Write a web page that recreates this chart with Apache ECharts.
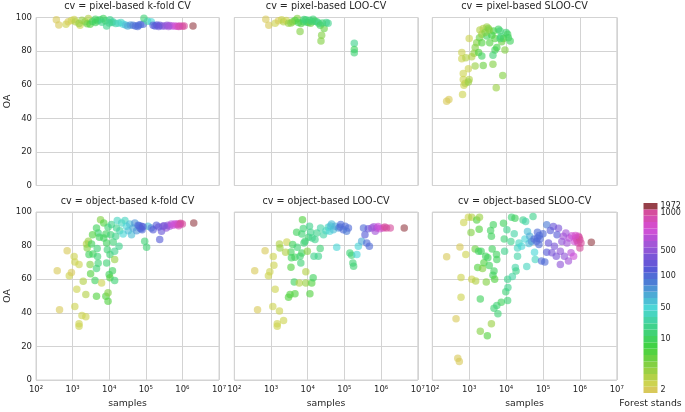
<!DOCTYPE html>
<html>
<head>
<meta charset="utf-8">
<script src="https://cdn.jsdelivr.net/npm/echarts@6/dist/echarts.min.js"></script>
<style>html,body{margin:0;padding:0;background:#fff;}#c{width:685px;height:412px;}</style>
</head>
<body>
<div id="c"></div>
<script>
// ---------- DATA ----------
const panelTitles = ['cv = pixel-based k-fold CV','cv = pixel-based LOO-CV','cv = pixel-based SLOO-CV',
  'cv = object-based k-fold CV','cv = object-based LOO-CV','cv = object-based SLOO-CV'];
const xTickLabels = {100:'10²',1000:'10³',10000:'10⁴',100000:'10⁵',1000000:'10⁶',10000000:'10⁷'};
const yTicks = [0,20,40,60,80,100];

// pixel-based k-fold
const pkfSamples = [360,420,660,760,930,1100,1200,1600,1500,2200,2700,2500,3000,3500,4200,4800,5600,6900,6300,8500,7900,10500,12000,12600,15000,17800,21000,24000,28000,32000,38000,45000,52000,63000,72000,85000,89000,112000,141000,158000,178000,200000,240000,282000,331000,380000,447000,525000,617000,708000,851000,1000000,1120000,1950000,1800,4200,10000,60000,224000,417000,794000];
const pkfOA      = [98.6,95.6,96.0,97.4,98.2,98.8,97.5,95.4,96.5,97.4,99.4,96.3,96.0,97.6,97.0,98.0,98.6,99.4,97.2,95.0,98.0,98.6,97.0,97.4,96.4,96.6,97.0,96.0,95.5,95.0,95.6,95.4,95.0,95.4,95.8,96.0,99.6,97.8,97.4,95.4,95.0,95.6,95.4,95.0,95.0,95.4,95.2,95.0,95.0,94.8,95.0,94.8,95.0,95.0,98.4,99.0,96.8,94.6,94.6,94.6,94.6];
const pkfStands  = [2,2,3,2,3,3,4,3,5,6,4,7,8,10,12,10,15,12,20,20,15,20,25,30,30,40,45,55,60,70,80,90,100,120,150,150,15,30,50,200,200,250,350,400,500,550,650,750,850,920,960,1000,1100,1972,5,10,20,100,300,600,950];

// pixel-based LOO
const ploSamples = [720,870,1300,1600,1950,2200,2600,3000,3900,5200,6200,5600,6600,7600,8900,9500,10500,12000,14000,15800,17800,20000,22000,24000,23000,28000,32000,36000,186000,186000,186000,4500,7900,11200,13200,25000,3500];
const ploOA      = [99.0,95.4,96.6,98.0,98.6,97.4,98.2,96.6,97.4,99.4,91.6,97.0,96.4,97.4,98.6,97.2,97.0,96.6,99.0,97.8,97.4,96.6,95.4,89.4,86.0,93.4,97.0,96.6,84.6,81.0,79.0,98.2,98.8,98.4,97.6,96.8,96.8];
const ploStands  = [2,2,3,2,3,4,3,5,6,6,6,10,8,12,15,15,12,7,15,12,15,20,10,6,6,7,20,20,20,12,15,8,15,15,15,15,6];

// pixel-based SLOO
const pslSamples = [245,282,660,720,780,690,1000,950,690,950,630,630,810,1170,1450,2400,4400,5400,8100,1000,1450,1600,1350,1800,2200,1900,2200,1950,2400,3000,3300,2200,3000,3600,4100,4600,5000,4400,5000,5600,6200,6900,7200,7600,9300,8500,10000,11000,11500,12900,6900,3500,2700];
const pslOA      = [50.2,51.2,54.2,59.6,60.8,63.1,63.1,61.6,66.7,69.5,75.5,79.1,76.1,76.7,71.1,71.5,72.1,58.2,65.5,87.5,82.1,85.0,78.7,79.1,77.1,88.0,90.0,92.6,93.4,94.4,93.4,85.0,89.0,85.0,89.4,92.0,87.5,77.5,80.7,82.1,93.0,92.0,88.6,85.5,80.7,87.5,91.0,90.0,88.0,86.0,87.5,92.6,91.0];
const pslStands  = [2,2,3,3,4,3,4,5,3,3,3,3,4,4,5,7,6,5,6,3,6,6,5,8,12,7,5,4,4,5,6,8,12,8,9,9,8,15,12,9,12,15,15,7,6,8,15,12,10,12,15,6,6];

// object-based k-fold
const okfSamples = [380,440,710,810,930,1100,1150,1150,1300,1500,1500,1500,1800,1950,2300,2300,2400,2500,2700,2800,3000,3100,3300,3600,4100,4500,4500,4700,4800,5000,5000,5400,5800,6200,7100,8100,8500,8100,8500,8900,9300,9300,9300,10000,10500,10500,11000,11500,12300,12900,14100,14100,14100,15100,15800,16600,18600,19500,21900,24000,26900,29500,33100,36300,40700,44700,50100,56200,61700,69200,75900,79400,93300,105000,115000,141000,158000,195000,240000,269000,295000,363000,398000,447000,501000,562000,692000,759000,851000,1000000,2040000,66000,74000,83000,224000,316000,631000,891000,794000,4500,7100,3500];
const okfOA      = [65.1,41.8,77.0,62.0,64.0,73.5,70.3,43.8,54.0,68.7,33.5,32.0,38.4,58.8,50.9,37.6,81.0,78.6,82.6,74.7,68.7,63.2,81.0,75.0,59.2,49.9,66.3,78.2,73.5,69.5,87.5,85.0,95.4,57.8,93.5,49.9,69.7,86.9,81.6,77.6,90.9,46.9,51.9,62.8,60.8,74.7,86.5,92.5,65.1,82.2,59.2,76.6,71.7,85.5,90.5,94.9,79.6,88.9,93.5,86.9,94.9,91.5,88.9,92.9,86.5,90.5,93.5,88.9,92.1,90.5,91.5,89.5,82.6,79.0,91.5,90.5,89.5,92.1,83.6,88.5,91.5,90.5,92.1,91.5,92.9,92.1,92.5,92.9,92.9,92.9,93.5,91.8,90.0,91.2,91.0,91.8,93.0,93.3,91.8,90.5,84.5,86.5];
const okfStands  = [2,2,2,3,2,3,3,3,3,3,3,3,3,4,4,3,4,6,5,10,6,8,10,12,12,8,15,15,15,15,15,10,6,3,8,8,15,10,12,15,15,8,6,10,8,15,15,20,12,15,15,20,5,20,20,40,20,30,40,50,40,50,60,60,60,70,80,80,100,150,150,100,15,15,60,90,200,250,200,300,400,500,550,600,700,800,900,950,1000,1200,1972,150,150,200,300,450,850,1000,950,12,12,8];

// object-based LOO
const oloSamples = [360,430,690,850,930,1150,1120,1200,1300,1480,1480,1700,2200,1700,1750,2700,3000,3300,3500,3500,3600,3900,4300,4500,4500,5200,5900,6200,6500,6900,6900,7200,7900,8500,8900,8900,9800,10500,11200,11500,12900,14100,14800,15800,17800,19500,21900,22400,26900,31600,36300,39800,44700,50100,56200,61700,69200,79400,93300,105000,115000,129000,141000,158000,170000,178000,219000,240000,295000,331000,363000,407000,479000,447000,562000,692000,759000,933000,1150000,1410000,1780000,4270000,41700,75900,631000,832000,1260000,5000,7600,12000,13200,2500];
const oloOA      = [65.1,41.8,77.0,62.0,64.4,73.5,43.8,68.3,54.0,33.5,32.0,41.0,35.4,81.0,78.6,82.2,49.3,50.9,76.2,67.1,72.7,80.6,58.4,73.1,51.3,79.0,57.8,73.7,69.7,75.6,86.9,95.4,81.6,82.6,57.8,64.4,76.6,85.0,91.5,51.3,57.8,60.8,73.7,83.6,87.5,73.7,78.2,90.5,86.5,88.9,90.9,88.5,92.9,89.5,91.5,79.0,90.5,92.5,89.5,91.5,88.5,90.5,75.6,74.3,69.7,67.7,74.7,79.6,82.6,90.5,86.5,81.6,79.6,90.1,90.5,88.5,90.5,90.1,90.5,90.5,90.5,90.5,91.6,91.0,91.2,91.4,91.0,88.0,90.2,88.0,84.5,76.0];
const oloStands  = [2,2,2,3,3,3,3,3,3,3,3,3,3,4,5,3,8,8,10,8,10,12,12,12,8,15,4,15,15,12,15,8,15,15,5,4,6,15,20,8,8,12,20,20,20,20,15,30,30,40,40,50,60,60,70,50,80,100,100,150,90,150,15,15,15,15,50,50,70,150,200,150,150,300,500,600,700,850,950,1000,1100,1972,60,100,600,800,1000,12,15,20,20,4];

// object-based SLOO
const oslSamples = [245,440,490,540,560,600,600,710,810,950,1170,1120,1170,1450,1500,1600,1700,1800,1860,1900,2000,2000,2100,2300,2500,2800,2900,3100,3200,3500,3800,4000,4000,4200,4400,4500,4700,4900,4700,5500,5600,6000,7400,5600,8500,8900,9100,9800,10500,11000,11200,11000,13500,14100,14800,16600,17400,17800,18600,20400,20400,22400,26300,28800,32400,33900,36300,38000,41700,43700,49000,53700,57500,58900,61700,66100,70800,77600,83200,91200,100000,112000,126000,126000,141000,158000,174000,191000,204000,229000,240000,263000,295000,295000,324000,355000,380000,447000,490000,513000,575000,603000,676000,708000,776000,891000,912000,1000000,1000000,1070000,2040000,832000,955000,759000,417000,79400,70800];
const oslOA      = [73.3,36.5,12.9,11.0,79.2,61.0,49.2,93.7,74.7,96.9,96.9,87.8,60.0,78.0,59.0,95.3,66.9,76.7,89.8,96.9,48.2,29.0,76.7,66.3,69.8,73.7,58.4,26.3,72.7,68.2,89.0,33.5,85.5,78.0,62.4,92.4,64.9,60.0,42.7,74.7,44.3,39.4,46.3,71.8,93.3,83.9,76.7,52.5,89.4,60.0,55.1,47.3,82.5,96.9,61.6,87.0,96.3,66.9,64.9,78.6,73.7,81.6,79.6,95.3,83.9,94.3,67.5,88.4,81.2,85.5,82.5,97.3,83.9,76.1,71.8,82.5,84.5,80.6,83.9,70.8,87.0,70.2,92.4,76.1,81.6,89.0,75.7,91.4,79.6,73.7,86.5,90.4,76.7,68.8,82.5,85.5,73.7,81.6,70.8,84.5,75.7,85.9,73.7,82.5,84.5,81.6,85.5,83.5,78.6,81.6,82.0,83.0,84.8,86.0,87.5,86.0,88.0];
const oslStands  = [2,2,2,2,2,3,3,3,3,3,4,6,3,7,4,8,8,10,8,5,10,6,12,6,8,10,6,8,12,12,10,5,12,12,12,12,12,8,15,10,15,15,12,12,12,15,20,15,20,20,20,15,20,15,30,30,12,30,20,40,30,40,50,20,50,30,40,60,60,70,80,20,100,50,40,100,150,100,150,150,150,150,90,200,300,200,400,300,400,400,200,400,500,500,500,600,500,600,600,700,700,850,850,800,900,950,950,1000,1000,1000,1972,950,1000,900,600,150,100];

// colour bar: bin lower edges (forest stands), labels
const standEdges = [2,3,4,5,6,7,8,9,10,15,20,30,40,50,60,70,80,90,100,200,300,400,500,600,700,800,900,950,1000,1500,2000];
const cbTickLabels = {0:'2',8:'10',13:'50',18:'100',22:'500',28:'1000',29:'1972'};
const cbColors = ['hsl(53,62%,60%)','hsl(63,60%,57%)','hsl(73,60%,55%)','hsl(83,60%,54%)','hsl(93,60%,54%)','hsl(103,61%,54%)','hsl(113,62%,54%)','hsl(122,62%,54%)','hsl(132,62%,54%)','hsl(142,62%,54%)','hsl(151,62%,54%)','hsl(161,62%,55%)','hsl(171,63%,56%)','hsl(180,63%,57%)','hsl(190,62%,57%)','hsl(199,62%,57%)','hsl(209,62%,57%)','hsl(219,62%,57%)','hsl(228,62%,58%)','hsl(238,62%,59%)','hsl(248,62%,59%)','hsl(257,62%,59%)','hsl(267,62%,59%)','hsl(276,62%,59%)','hsl(286,62%,58%)','hsl(296,62%,58%)','hsl(305,62%,57%)','hsl(315,62%,57%)','hsl(325,62%,57%)','hsl(354,40%,42%)'];

// ---------- CHART ----------
const FONT = 'DejaVu Sans';
const TXT = '#262626';
const GRIDC = '#d3d3d3';
const panels = [
  [pkfSamples,pkfOA,pkfStands],[ploSamples,ploOA,ploStands],[pslSamples,pslOA,pslStands],
  [okfSamples,okfOA,okfStands],[oloSamples,oloOA,oloStands],[oslSamples,oslOA,oslStands]];
const gridBoxes = [
  {left:36, top:17.5, width:183, height:168},
  {left:234.3, top:17.5, width:183.5, height:168},
  {left:432.3, top:17.5, width:184.5, height:168},
  {left:36, top:212, width:183, height:168},
  {left:234.3, top:212, width:183.5, height:168},
  {left:432.3, top:212, width:184.5, height:168}
];
const grid = gridBoxes.map(g => Object.assign({show:true, borderColor:GRIDC, borderWidth:1, backgroundColor:'#fff'}, g));
grid.push({left:643.5, top:203, width:14, height:190, show:false});

const xAxis = gridBoxes.map((g,i) => ({
  type:'log', logBase:10, min:100, max:10000000, gridIndex:i,
  axisLine:{show:false}, axisTick:{show:false},
  splitLine:{show:true, lineStyle:{color:GRIDC, width:1}},
  axisLabel:{show:i>=3, fontSize:8.5, color:TXT, fontFamily:FONT, margin:5,
    formatter:v => xTickLabels[Math.round(v)] || ''},
  name: i>=3 ? 'samples' : '', nameLocation:'middle', nameGap:19,
  nameTextStyle:{fontSize:9.3, color:TXT, fontFamily:FONT}
}));
xAxis.push({type:'value', gridIndex:6, min:0, max:1, axisLine:{show:false}, axisTick:{show:false},
  axisLabel:{show:false}, splitLine:{show:false}, name:'Forest stands', nameLocation:'middle', nameGap:6,
  nameTextStyle:{fontSize:9.3, color:TXT, fontFamily:FONT, verticalAlign:'top'}});

const yAxis = gridBoxes.map((g,i) => ({
  type:'value', min:0, max:100, interval:20, gridIndex:i,
  axisLine:{show:false}, axisTick:{show:false},
  splitLine:{show:true, lineStyle:{color:GRIDC, width:1}},
  axisLabel:{show:i%3===0, fontSize:8.5, color:TXT, fontFamily:FONT, margin:4},
  name: i%3===0 ? 'OA' : '', nameLocation:'middle', nameGap:22, nameRotate:90,
  nameTextStyle:{fontSize:9.3, color:TXT, fontFamily:FONT}
}));
yAxis.push({type:'category', gridIndex:6, position:'right', data:cbColors.map((c,i)=>'c'+i),
  axisLine:{show:false}, axisTick:{show:false}, splitLine:{show:false},
  axisLabel:{interval:0, fontSize:8, color:TXT, fontFamily:FONT, margin:3,
    formatter:(v,i) => cbTickLabels[i] || ''}});

const series = panels.map((p,i) => ({
  type:'scatter', xAxisIndex:i, yAxisIndex:i, symbolSize:7.5,
  itemStyle:{opacity:0.62},
  data:p[0].map((s,k) => [s, p[1][k], p[2][k]])
}));
series.push({type:'bar', xAxisIndex:6, yAxisIndex:6, barWidth:'100%', barCategoryGap:'0%', silent:true,
  data:cbColors.map(c => ({value:1, itemStyle:{color:c}}))});

const pieces = cbColors.map((c,i) => ({gte:standEdges[i], lt:standEdges[i+1], color:c}));

const titleCenters = gridBoxes.map(g => ({x:g.left + g.width/2, y:g.top - 16}));
const title = panelTitles.map((t,i) => ({
  text:t, left:titleCenters[i].x, top:titleCenters[i].y, textAlign:'center', padding:0,
  textStyle:{fontSize:9.6, fontWeight:'normal', color:TXT, fontFamily:FONT}
}));

const chart = echarts.init(document.getElementById('c'), null, {renderer:'canvas'});
chart.setOption({
  animation:false,
  backgroundColor:'#fff',
  textStyle:{fontFamily:FONT},
  title, grid, xAxis, yAxis, series,
  visualMap:{type:'piecewise', show:false, dimension:2, seriesIndex:[0,1,2,3,4,5], pieces}
});
</script>
</body>
</html>
